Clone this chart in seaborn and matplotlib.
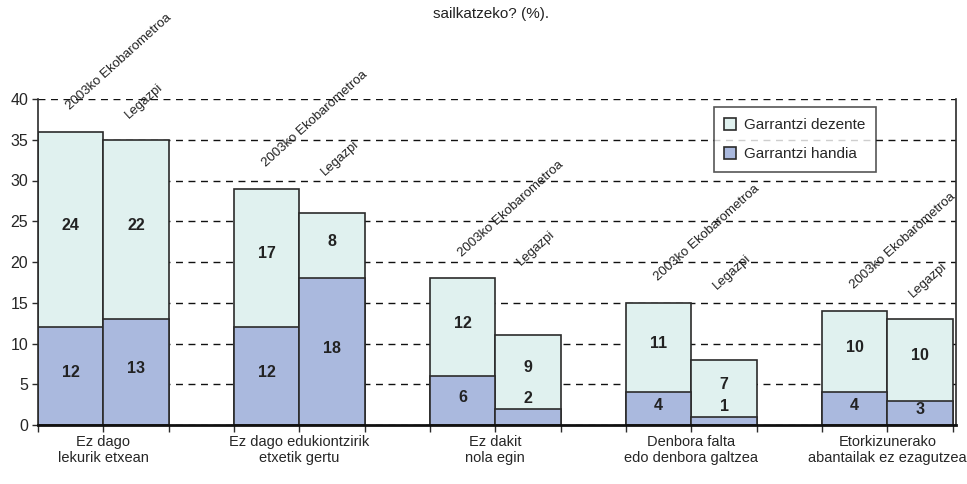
import numpy as np
import pandas as pd
import matplotlib
matplotlib.use('Agg')
import matplotlib.pyplot as plt
from matplotlib.patches import Patch
import seaborn as sns

# ── Data ─────────────────────────────────────────────────────────────────────
categories = ['Ez dago\nlekurik etxean',
              'Ez dago edukiontzirik\netxetik gertu',
              'Ez dakit\nnola egin',
              'Denbora falta\nedo denbora galtzea',
              'Etorkizunerako\nabantailak ez ezagutzea']
sources = ['2003ko Ekobarometroa', 'Legazpi']
# per category: [Ekobarometroa, Legazpi]
handia  = [[12, 13], [12, 18], [6, 2], [4, 1], [4, 3]]
dezente = [[24, 22], [17, 8], [12, 9], [11, 7], [10, 10]]
y_ticks = [0, 5, 10, 15, 20, 25, 30, 35, 40]
legend_labels = ['Garrantzi dezente', 'Garrantzi handia']
title_tail = 'sailkatzeko? (%).'

# ── Style ────────────────────────────────────────────────────────────────────
LIGHT = '#e0f1ef'
DARK = '#aab9de'
EDGE = '#2b2b2b'
TXT = '#222'
sns.set_style('white')
plt.rcParams['font.family'] = ['Liberation Sans', 'DejaVu Sans']

rows = []
for ci, cat in enumerate(categories):
    for si, src in enumerate(sources):
        rows.append({'pos': 3 * ci + si + 0.5, 'cat': ci, 'src': src,
                     'handia': handia[ci][si], 'dezente': dezente[ci][si],
                     'total': handia[ci][si] + dezente[ci][si]})
df = pd.DataFrame(rows)

fig = plt.figure(figsize=(9.67, 4.84), dpi=100)
ax = fig.add_axes([38 / 967, 1 - 425 / 484, (956 - 38) / 967, (425 - 99) / 484])

sns.barplot(data=df, x='pos', y='total', native_scale=True, width=1,
            color=LIGHT, saturation=1, errorbar=None,
            edgecolor=EDGE, linewidth=1.2, ax=ax, zorder=2)
sns.barplot(data=df, x='pos', y='handia', native_scale=True, width=1,
            color=DARK, saturation=1, errorbar=None,
            edgecolor=EDGE, linewidth=1.2, ax=ax, zorder=2)

# value labels
for _, r in df.iterrows():
    h, d = r['handia'], r['dezente']
    yh = h / 2 + 0.4 if h >= 3 else h + 1.3
    ax.text(r['pos'], yh, f'{h}', ha='center', va='center',
            fontsize=11.5, fontweight='bold', color=TXT, zorder=4)
    ax.text(r['pos'], h + d / 2 + 0.5, f'{d}', ha='center', va='center',
            fontsize=11.5, fontweight='bold', color=TXT, zorder=4)

# rotated source labels above each group
for ci in range(len(categories)):
    sub = df[df['cat'] == ci]
    top1 = sub['total'].iloc[0]
    ax.text(sub['pos'].iloc[0] + 0.02, top1 + 2.4, sources[0], rotation=42,
            rotation_mode='anchor', ha='left', va='bottom', fontsize=9.5,
            color=TXT, clip_on=False, zorder=5)
    ax.text(sub['pos'].iloc[1] - 0.08, top1 + 1.3, sources[1], rotation=42,
            rotation_mode='anchor', ha='left', va='bottom', fontsize=9.5,
            color=TXT, clip_on=False, zorder=5)

# axes
ax.set_xlim(0, 14.05)
ax.set_ylim(0, 40)
ax.set_yticks(y_ticks)
ax.set_yticklabels([str(t) for t in y_ticks], fontsize=11.5)
ax.xaxis.remove_overlapping_locs = False
ax.set_xticks([3 * i + 1 for i in range(len(categories))])
ax.set_xticklabels(categories, fontsize=10.5, linespacing=1.25)
ax.set_xticks(np.arange(0, 15), minor=True)
ax.tick_params(axis='x', which='minor', direction='out', length=5, width=1, color=EDGE, bottom=True)
ax.tick_params(axis='x', which='major', length=0, pad=7, bottom=True)
ax.tick_params(axis='y', direction='out', length=4, width=1, color=EDGE, left=True, pad=3)
ax.set_xlabel('')
ax.set_ylabel('')

ax.yaxis.grid(True, linestyle=(0, (5, 4)), color='#111', linewidth=1)
ax.xaxis.grid(False)
ax.set_axisbelow(True)

ax.spines['top'].set_visible(False)
for s in ['left', 'right']:
    ax.spines[s].set_color(EDGE)
    ax.spines[s].set_linewidth(1.2)
ax.spines['bottom'].set_color('#111')
ax.spines['bottom'].set_linewidth(2)

handles = [Patch(facecolor=LIGHT, edgecolor=EDGE, linewidth=1.2),
           Patch(facecolor=DARK, edgecolor=EDGE, linewidth=1.2)]
leg = ax.legend(handles, legend_labels, loc='upper right', bbox_to_anchor=(0.913, 0.975),
                fontsize=11, frameon=True, fancybox=False, handlelength=0.8,
                handleheight=0.8, handletextpad=0.5, borderpad=0.7, labelspacing=1.0,
                borderaxespad=0)
leg.get_frame().set_edgecolor(EDGE)
leg.get_frame().set_linewidth(1.2)

fig.text(0.508, 1 - 14 / 484, title_tail, ha='center', va='center', fontsize=11, color=TXT)

fig.savefig('out.png', dpi=100)
